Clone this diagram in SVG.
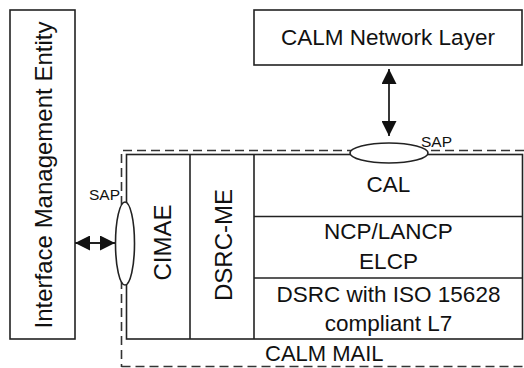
<svg xmlns="http://www.w3.org/2000/svg" width="524" height="368" viewBox="0 0 524 368">
<style>
.box{fill:#fff;stroke:#222;stroke-width:1.6}
.ln{fill:none;stroke:#222;stroke-width:1.6}
.dash{fill:none;stroke:#333;stroke-width:1.6;stroke-dasharray:9 5}
.t{font-family:"Liberation Sans",Arial,sans-serif;font-size:22.5px;fill:#111;text-anchor:middle}
.tv{font-family:"Liberation Sans",Arial,sans-serif;font-size:24px;fill:#111;text-anchor:middle}
.sap{font-family:"Liberation Sans",Arial,sans-serif;font-size:15.5px;fill:#111}
.ell{fill:#fff;stroke:#222;stroke-width:1.6}
.arr{fill:none;stroke:#222;stroke-width:1.8}
</style>
<defs>
<marker id="ah" viewBox="0 0 15 15" markerWidth="15" markerHeight="15" refX="15" refY="7.5" orient="auto-start-reverse" markerUnits="userSpaceOnUse">
<path d="M0,0 L15,7.5 L0,15 z" fill="#111"/>
</marker>
</defs>
<rect width="524" height="368" fill="#fff"/>
<g id="calm-mail">
<path class="dash" d="M524,150.5 H121.5 V367"/>
<path class="dash" d="M121.5,366.5 H524"/>
<text class="t" x="265" y="361" style="text-anchor:start;font-size:22px">CALM MAIL</text>
</g>
<g id="ime">
<rect class="box" x="10" y="10" width="65" height="329"/>
<text class="tv" transform="translate(52,175) rotate(-90)">Interface Management Entity</text>
</g>
<g id="calm-network-layer">
<rect class="box" x="254" y="10" width="268" height="55"/>
<text class="t" x="388" y="45">CALM Network Layer</text>
</g>
<g id="stack">
<rect class="box" x="126.5" y="154.5" width="396" height="184.5"/>
<line class="ln" x1="190" y1="154.5" x2="190" y2="339"/>
<line class="ln" x1="254" y1="154.5" x2="254" y2="339"/>
<line class="ln" x1="254" y1="216.5" x2="522.5" y2="216.5"/>
<line class="ln" x1="254" y1="278" x2="522.5" y2="278"/>
</g>
<g id="cimae">
<text class="tv" transform="translate(171,242.5) rotate(-90)">CIMAE</text>
</g>
<g id="dsrc-me">
<text class="tv" transform="translate(232,245) rotate(-90)">DSRC-ME</text>
</g>
<g id="cal">
<text class="t" x="388.5" y="192">CAL</text>
</g>
<g id="ncp">
<text class="t" x="388.5" y="239">NCP/LANCP</text>
<text class="t" x="388.5" y="269">ELCP</text>
</g>
<g id="dsrc">
<text class="t" x="388.5" y="302">DSRC with ISO 15628</text>
<text class="t" x="388.5" y="331">compliant L7</text>
</g>
<g id="sap-top">
<ellipse class="ell" cx="389" cy="153" rx="39" ry="10"/>
<text class="sap" x="421" y="147">SAP</text>
</g>
<g id="sap-left">
<ellipse class="ell" cx="125" cy="243.5" rx="9.5" ry="41.5"/>
<text class="sap" x="89" y="200">SAP</text>
</g>
<g id="connectors">
<line class="arr" x1="389" y1="69" x2="389" y2="136" marker-start="url(#ah)" marker-end="url(#ah)"/>
<line class="arr" x1="75" y1="243" x2="115" y2="243" marker-start="url(#ah)" marker-end="url(#ah)"/>
</g>
</svg>
